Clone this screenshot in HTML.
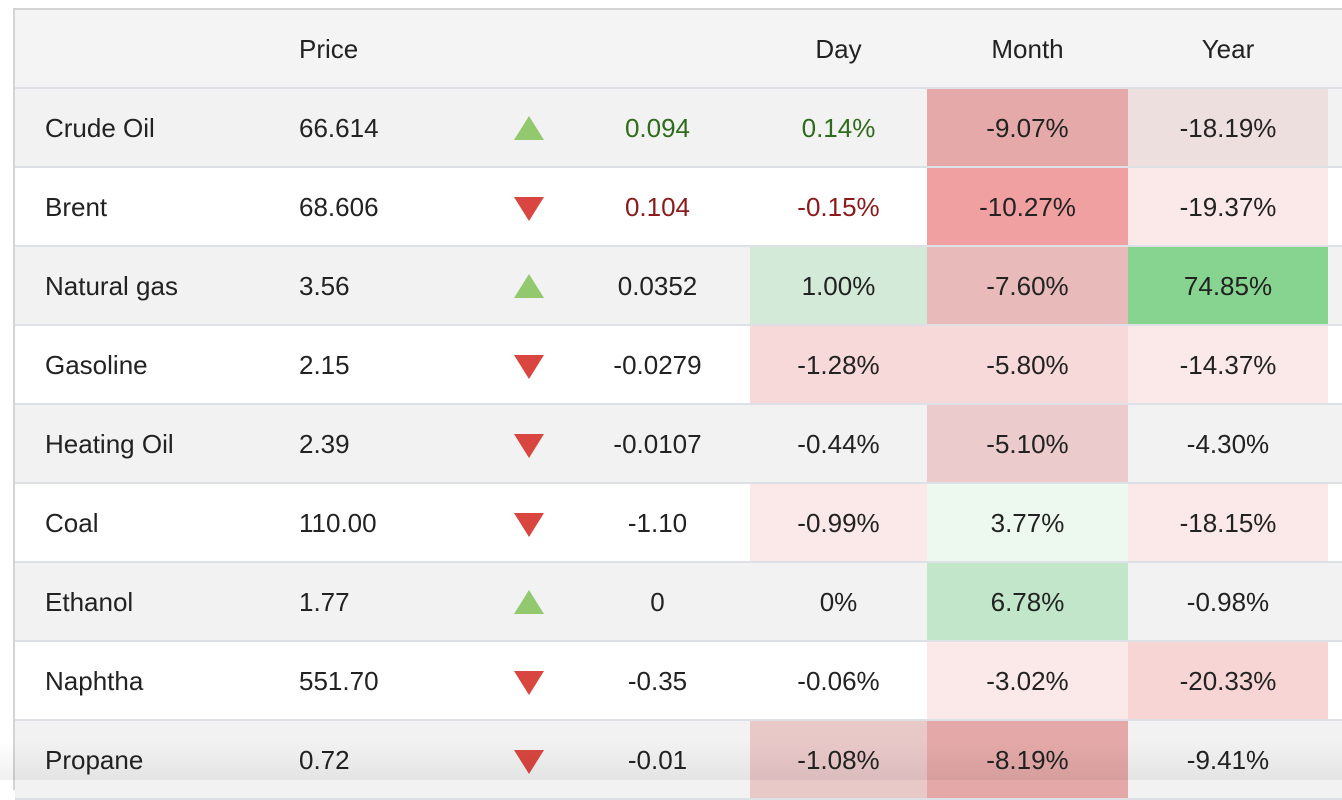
<!DOCTYPE html>
<html><head><meta charset="utf-8"><style>
body{margin:0;width:1342px;height:780px;overflow:hidden;background:#fff;font-family:"Liberation Sans",Arial,sans-serif;color:#222;position:relative}
#tbl{position:absolute;left:13px;top:8px;width:1329px;height:780px;border-left:2px solid #d4d4d4;border-top:2px solid #d4d4d4}
.row{position:absolute;left:15px;width:1327px;height:77px;border-bottom:2px solid #dde0e4}
.c{position:absolute;top:0;height:77px;line-height:79px;font-size:26px}
.hd{background:#f4f4f4}
.tri{position:absolute;left:499px;width:0;height:0}
.up{top:27px;border-left:15px solid transparent;border-right:15px solid transparent;border-bottom:24px solid #92c96e}
.dn{top:29px;border-left:15px solid transparent;border-right:15px solid transparent;border-top:24px solid #d9463f}
#shade{position:absolute;left:0;top:740px;width:1342px;height:40px;background:linear-gradient(rgba(0,0,0,0),rgba(0,0,0,0.06))}
</style></head><body>
<div id="tbl"></div>
<div id="rows"></div>
<div id="shade"></div>
<script>
const names=["Crude Oil","Brent","Natural gas","Gasoline","Heating Oil","Coal","Ethanol","Naphtha","Propane"];
const prices=["66.614","68.606","3.56","2.15","2.39","110.00","1.77","551.70","0.72"];
const dirs=["up","dn","up","dn","dn","dn","up","dn","dn"];
const changes=["0.094","0.104","0.0352","-0.0279","-0.0107","-1.10","0","-0.35","-0.01"];
const days=["0.14%","-0.15%","1.00%","-1.28%","-0.44%","-0.99%","0%","-0.06%","-1.08%"];
const months=["-9.07%","-10.27%","-7.60%","-5.80%","-5.10%","3.77%","6.78%","-3.02%","-8.19%"];
const years=["-18.19%","-19.37%","74.85%","-14.37%","-4.30%","-18.15%","-0.98%","-20.33%","-9.41%"];
const dayBg=[null,null,"#d3ead8","#f8d9d9",null,"#fbe8e8",null,null,"#e9c8c8"];
const monBg=["#e5a9a9","#f0a0a0","#e8baba","#f8d9d9","#ebcbcb","#edf8ee","#c2e6c9","#fbe8e8","#e4a8a8"];
const yrBg=["#eedfdf","#fbe8e8","#86d48f","#fbe8e8",null,"#fbe8e8",null,"#f7d5d5",null];
const root=document.getElementById('rows');
function cell(row,l,w,text,align,bg,color,pad){
  const d=document.createElement('div');d.className='c';
  d.style.left=(l-15)+'px';d.style.width=w+'px';d.style.textAlign=align;
  if(pad)d.style.paddingLeft=pad+'px',d.style.boxSizing='border-box';
  if(bg)d.style.background=bg;if(color)d.style.color=color;
  d.textContent=text;row.appendChild(d);return d;
}
// header
const h=document.createElement('div');h.className='row hd';h.style.top='10px';


root.appendChild(h);
const hp=cell(h,270,200,'Price','left',null,null,29);


const hd=cell(h,750,177,'Day','center');


const hm=cell(h,927,201,'Month','center');


const hy=cell(h,1128,200,'Year','center');


names.forEach((n,i)=>{
  const r=document.createElement('div');r.className='row';
  r.style.top=(89+i*79)+'px';r.style.background=i%2===0?'#f2f2f2':'#fff';
  
  
  root.appendChild(r);
  const a=cell(r,15,255,n,'left',null,null,30);
  
  
  const p=cell(r,270,200,prices[i],'left',null,null,29);
  
  
  const t=document.createElement('div');t.className='tri '+dirs[i];
  
  
  r.appendChild(t);
  const chCol=(i===0||i===1)?(i===0?'#2e6b1a':'#8b1a1a'):null;
  const ch=cell(r,560,195,changes[i],'center',null,chCol);
  
  
  const dy=cell(r,750,177,days[i],'center',dayBg[i],chCol);
  
  
  const mo=cell(r,927,201,months[i],'center',monBg[i]);
  
  
  const yr=cell(r,1128,200,years[i],'center',yrBg[i]);
  
  
});
</script>
</body></html>
